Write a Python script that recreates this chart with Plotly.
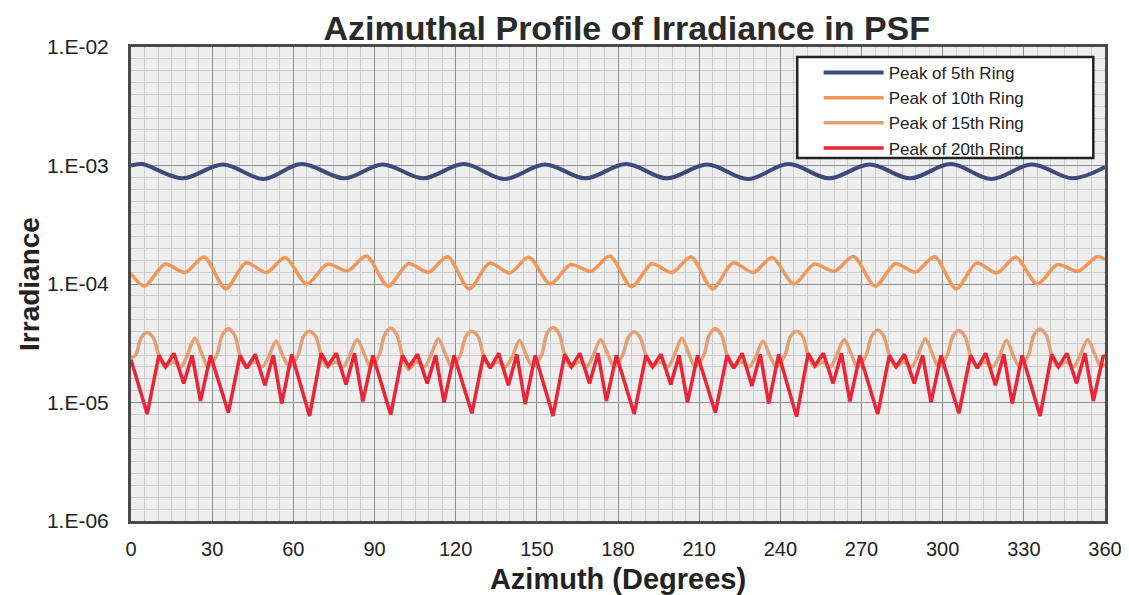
import plotly.graph_objects as go

# ---------------- data ----------------
series_names = ["Peak of 5th Ring", "Peak of 10th Ring", "Peak of 15th Ring", "Peak of 20th Ring"]

az_5 = [0, 4, 19, 34, 49, 63, 79, 93, 108, 123, 138, 153, 168, 183, 198, 213, 228,
        243, 258, 273, 288, 303, 318, 333, 348, 360]
irr_5 = [1.00e-3, 1.03e-3, 0.78e-3, 1.02e-3, 0.77e-3, 1.03e-3, 0.78e-3, 1.02e-3, 0.78e-3,
         1.03e-3, 0.77e-3, 1.02e-3, 0.78e-3, 1.03e-3, 0.78e-3, 1.02e-3, 0.77e-3,
         1.03e-3, 0.78e-3, 1.02e-3, 0.78e-3, 1.03e-3, 0.77e-3, 1.02e-3, 0.78e-3, 0.97e-3]

az_10 = [0,
         5, 12.5, 20, 27, 35, 42.5, 50, 57, 65, 72.5, 80, 87,
         95, 102.5, 110, 117, 125, 132.5, 140, 147, 155, 162.5, 170, 177,
         185, 192.5, 200, 207, 215, 222.5, 230, 237, 245, 252.5, 260, 267,
         275, 282.5, 290, 297, 305, 312.5, 320, 327, 335, 342.5, 350, 357,
         360]
irr_10 = [1.22e-4,
          0.96e-4, 1.47e-4, 1.25e-4, 1.69e-4, 0.91e-4, 1.51e-4, 1.25e-4, 1.67e-4,
          1.00e-4, 1.47e-4, 1.29e-4, 1.72e-4,
          0.96e-4, 1.48e-4, 1.26e-4, 1.70e-4, 0.91e-4, 1.50e-4, 1.24e-4, 1.68e-4,
          1.00e-4, 1.46e-4, 1.28e-4, 1.72e-4,
          0.95e-4, 1.48e-4, 1.25e-4, 1.69e-4, 0.91e-4, 1.51e-4, 1.25e-4, 1.67e-4,
          1.00e-4, 1.47e-4, 1.28e-4, 1.71e-4,
          0.96e-4, 1.48e-4, 1.26e-4, 1.70e-4, 0.91e-4, 1.50e-4, 1.24e-4, 1.68e-4,
          1.00e-4, 1.46e-4, 1.28e-4, 1.70e-4,
          1.62e-4]

az_15 = [0,
         1.7, 3.7, 6, 8.3, 10.3, 12.5, 15.5, 18.5, 20.8, 23.6, 26.4, 28.5,
         31.7, 33.7, 36, 38.3, 40.3, 42.5, 45.5, 48.5, 50.8, 53.6, 56.4, 58.5,
         61.7, 63.7, 66, 68.3, 70.3, 72.5, 75.5, 78.5, 80.8, 83.6, 86.4, 88.5,
         91.7, 93.7, 96, 98.3, 100.3, 102.5, 105.5, 108.5, 110.8, 113.6, 116.4, 118.5,
         121.7, 123.7, 126, 128.3, 130.3, 132.5, 135.5, 138.5, 140.8, 143.6, 146.4, 148.5,
         151.7, 153.7, 156, 158.3, 160.3, 162.5, 165.5, 168.5, 170.8, 173.6, 176.4, 178.5,
         181.7, 183.7, 186, 188.3, 190.3, 192.5, 195.5, 198.5, 200.8, 203.6, 206.4, 208.5,
         211.7, 213.7, 216, 218.3, 220.3, 222.5, 225.5, 228.5, 230.8, 233.6, 236.4, 238.5,
         241.7, 243.7, 246, 248.3, 250.3, 252.5, 255.5, 258.5, 260.8, 263.6, 266.4, 268.5,
         271.7, 273.7, 276, 278.3, 280.3, 282.5, 285.5, 288.5, 290.8, 293.6, 296.4, 298.5,
         301.7, 303.7, 306, 308.3, 310.3, 312.5, 315.5, 318.5, 320.8, 323.6, 326.4, 328.5,
         331.7, 333.7, 336, 338.3, 340.3, 342.5, 345.5, 348.5, 350.8, 353.6, 356.4, 358.5,
         360]
irr_15 = [2.4e-5,
          2.5e-5, 3.5e-5, 3.9e-5, 3.5e-5, 2.5e-5, 2.0e-5, 2.2e-5, 2.0e-5, 2.5e-5, 3.5e-5, 2.5e-5, 2.0e-5,
          2.5e-5, 3.7e-5, 4.2e-5, 3.7e-5, 2.5e-5, 2.0e-5, 2.2e-5, 2.0e-5, 2.4e-5, 3.3e-5, 2.4e-5, 2.0e-5,
          2.5e-5, 3.6e-5, 4.0e-5, 3.6e-5, 2.5e-5, 2.0e-5, 2.2e-5, 2.0e-5, 2.5e-5, 3.4e-5, 2.5e-5, 2.0e-5,
          2.5e-5, 3.7e-5, 4.25e-5, 3.7e-5, 2.5e-5, 1.9e-5, 2.2e-5, 2.0e-5, 2.5e-5, 3.45e-5, 2.5e-5, 2.0e-5,
          2.5e-5, 3.6e-5, 4.0e-5, 3.6e-5, 2.5e-5, 2.0e-5, 2.2e-5, 2.0e-5, 2.4e-5, 3.35e-5, 2.4e-5, 2.0e-5,
          2.5e-5, 3.8e-5, 4.3e-5, 3.8e-5, 2.5e-5, 2.0e-5, 2.2e-5, 2.0e-5, 2.5e-5, 3.4e-5, 2.5e-5, 2.0e-5,
          2.5e-5, 3.5e-5, 3.95e-5, 3.5e-5, 2.5e-5, 2.0e-5, 2.2e-5, 2.0e-5, 2.5e-5, 3.5e-5, 2.5e-5, 2.0e-5,
          2.5e-5, 3.7e-5, 4.2e-5, 3.7e-5, 2.5e-5, 2.0e-5, 2.2e-5, 2.0e-5, 2.4e-5, 3.3e-5, 2.4e-5, 2.0e-5,
          2.5e-5, 3.6e-5, 4.0e-5, 3.6e-5, 2.5e-5, 2.0e-5, 2.2e-5, 2.0e-5, 2.5e-5, 3.4e-5, 2.5e-5, 2.0e-5,
          2.5e-5, 3.6e-5, 4.1e-5, 3.6e-5, 2.5e-5, 2.0e-5, 2.2e-5, 2.0e-5, 2.5e-5, 3.45e-5, 2.5e-5, 2.0e-5,
          2.5e-5, 3.6e-5, 4.05e-5, 3.6e-5, 2.5e-5, 2.0e-5, 2.2e-5, 2.0e-5, 2.4e-5, 3.35e-5, 2.4e-5, 2.0e-5,
          2.5e-5, 3.7e-5, 4.15e-5, 3.7e-5, 2.5e-5, 2.0e-5, 2.2e-5, 2.0e-5, 2.5e-5, 3.4e-5, 2.5e-5, 2.0e-5,
          2.1e-5]

az_20 = [0,
         6, 10.3, 12.8, 15.9, 19.5, 22.6, 25.7, 29.4,
         36, 40.3, 42.8, 45.9, 49.5, 52.6, 55.7, 59.4,
         66, 70.3, 72.8, 75.9, 79.5, 82.6, 85.7, 89.4,
         96, 100.3, 102.8, 105.9, 109.5, 112.6, 115.7, 119.4,
         126, 130.3, 132.8, 135.9, 139.5, 142.6, 145.7, 149.4,
         156, 160.3, 162.8, 165.9, 169.5, 172.6, 175.7, 179.4,
         186, 190.3, 192.8, 195.9, 199.5, 202.6, 205.7, 209.4,
         216, 220.3, 222.8, 225.9, 229.5, 232.6, 235.7, 239.4,
         246, 250.3, 252.8, 255.9, 259.5, 262.6, 265.7, 269.4,
         276, 280.3, 282.8, 285.9, 289.5, 292.6, 295.7, 299.4,
         306, 310.3, 312.8, 315.9, 319.5, 322.6, 325.7, 329.4,
         336, 340.3, 342.8, 345.9, 349.5, 352.6, 355.7, 359.4,
         360]
irr_20 = [2.3e-5,
          0.80e-5, 2.50e-5, 2.00e-5, 2.60e-5, 1.45e-5, 2.50e-5, 1.03e-5, 2.50e-5,
          0.82e-5, 2.50e-5, 1.95e-5, 2.55e-5, 1.40e-5, 2.50e-5, 0.98e-5, 2.55e-5,
          0.77e-5, 2.60e-5, 2.05e-5, 2.60e-5, 1.42e-5, 2.60e-5, 1.02e-5, 2.50e-5,
          0.79e-5, 2.50e-5, 2.00e-5, 2.55e-5, 1.45e-5, 2.50e-5, 1.00e-5, 2.50e-5,
          0.81e-5, 2.50e-5, 1.95e-5, 2.60e-5, 1.40e-5, 2.55e-5, 0.97e-5, 2.50e-5,
          0.77e-5, 2.55e-5, 2.00e-5, 2.60e-5, 1.45e-5, 2.60e-5, 1.03e-5, 2.50e-5,
          0.80e-5, 2.50e-5, 2.00e-5, 2.55e-5, 1.42e-5, 2.50e-5, 1.00e-5, 2.50e-5,
          0.82e-5, 2.50e-5, 1.95e-5, 2.60e-5, 1.38e-5, 2.55e-5, 0.98e-5, 2.55e-5,
          0.76e-5, 2.60e-5, 2.05e-5, 2.60e-5, 1.45e-5, 2.60e-5, 1.02e-5, 2.50e-5,
          0.80e-5, 2.50e-5, 2.00e-5, 2.55e-5, 1.45e-5, 2.50e-5, 1.00e-5, 2.50e-5,
          0.81e-5, 2.50e-5, 1.95e-5, 2.60e-5, 1.40e-5, 2.55e-5, 0.98e-5, 2.50e-5,
          0.77e-5, 2.55e-5, 2.00e-5, 2.60e-5, 1.45e-5, 2.60e-5, 1.03e-5, 2.50e-5,
          2.4e-5]

x_ticks = [0, 30, 60, 90, 120, 150, 180, 210, 240, 270, 300, 330, 360]
y_tickvals = [1e-6, 1e-5, 1e-4, 1e-3, 1e-2]
y_ticktext = ["1.E-06", "1.E-05", "1.E-04", "1.E-03", "1.E-02"]

# ---------------- figure ----------------
# The page body keeps its default 8px margin, so the figure is offset by 8px;
# it is sized so that it ends exactly at the window's right and bottom edges.
FONT = "Liberation Sans, Arial, sans-serif"
fig = go.Figure()

fig.add_trace(go.Scatter(x=az_5, y=irr_5, name=series_names[0], mode="lines",
                         line=dict(color="#3d4a7c", width=4, shape="spline", smoothing=1.0)))
fig.add_trace(go.Scatter(x=az_10, y=irr_10, name=series_names[1], mode="lines",
                         line=dict(color="#f0985a", width=3.5, shape="spline", smoothing=0.8)))
fig.add_trace(go.Scatter(x=az_15, y=irr_15, name=series_names[2], mode="lines",
                         line=dict(color="#e3a074", width=3.5, shape="spline", smoothing=0.8)))
fig.add_trace(go.Scatter(x=az_20, y=irr_20, name=series_names[3], mode="lines",
                         line=dict(color="#ea2538", width=3.5)))

fig.update_layout(
    width=1121, height=587,
    margin=dict(l=123, r=24, t=39, b=74, autoexpand=False),
    paper_bgcolor="white",
    plot_bgcolor="#eeeeee",
    font=dict(family=FONT, color="#222222"),
    title=dict(text="<b>Azimuthal Profile of Irradiance in PSF</b>",
               font=dict(size=34, family=FONT, color="#2a2a2a"),
               x=0.552, xanchor="center", y=0.966, yanchor="middle", xref="container",
               automargin=False),
    showlegend=True,
    legend=dict(x=0.706, y=0.983, xanchor="left", yanchor="top",
                bgcolor="rgba(0,0,0,0)", borderwidth=0,
                font=dict(size=17, family=FONT, color="#222222"),
                itemwidth=60, tracegroupgap=0),
    shapes=[dict(type="rect", xref="paper", yref="paper",
                 x0=0.684, x1=0.988, y0=0.766, y1=0.979,
                 line=dict(color="#222222", width=2.5), fillcolor="white", layer="above")],
    xaxis=dict(range=[0, 360], tickvals=x_ticks, ticks="", ticklabelstandoff=8,
               ticklabeloverflow="allow", automargin=False,
               tickfont=dict(size=20, family=FONT),
               showgrid=True, gridcolor="#8f8f8f", gridwidth=1,
               minor=dict(dtick=5, tick0=0, showgrid=True, gridcolor="#cdcdcd", gridwidth=1),
               showline=True, linecolor="#4a4a4a", linewidth=3, mirror=True, zeroline=False,
               title=dict(text="<b>Azimuth (Degrees)</b>", font=dict(size=29, family=FONT),
                          standoff=13)),
    yaxis=dict(type="log", range=[-6, -2], tickvals=y_tickvals, ticktext=y_ticktext,
               automargin=False,
               ticks="", ticklabelstandoff=15, tickfont=dict(size=21, family=FONT),
               showgrid=True, gridcolor="#8f8f8f", gridwidth=1,
               minor=dict(dtick=0.1, showgrid=True, gridcolor="#cdcdcd", gridwidth=1),
               showline=True, linecolor="#4a4a4a", linewidth=3, mirror=True, zeroline=False,
               title=dict(text="<b>Irradiance</b>", font=dict(size=28, family=FONT),
                          standoff=0)),
)

fig.write_html("out.html")
